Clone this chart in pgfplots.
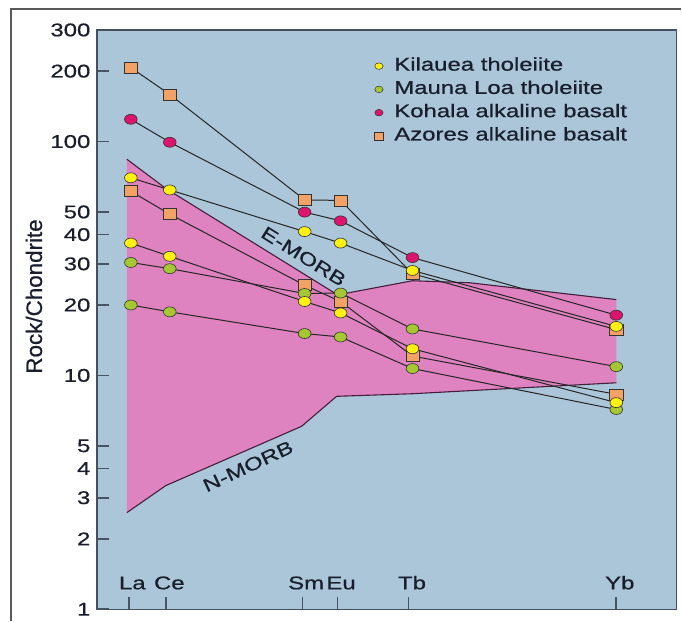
\documentclass[border=0pt]{standalone}
\usepackage{fontspec}
\setmainfont[FakeStretch=1.3, FakeBold=0.6]{Liberation Sans}
\newfontfamily\labelfont[FakeBold=0.6]{Liberation Sans}
\usepackage{pgfplots}
\usepackage{pgfplotstable}
\pgfplotsset{compat=1.18}
\pgfplotsset{legend image code/.code={\draw[#1] plot coordinates {(0bp,-2bp)};}}
\definecolor{bgblue}{RGB}{170,198,216}
\definecolor{morbpink}{RGB}{222,130,192}
\definecolor{kyellow}{RGB}{255,240,20}
\definecolor{mgreen}{RGB}{165,200,50}
\definecolor{kmag}{RGB}{220,20,110}
\definecolor{aorange}{RGB}{242,162,100}
\definecolor{txt}{RGB}{25,30,45}
\definecolor{axisc}{RGB}{70,80,92}
\definecolor{tickc}{RGB}{70,85,100}
\definecolor{bound}{RGB}{70,30,60}
% x = position along the REE axis (La Ce Sm Eu Tb Yb), y = rock/chondrite
\pgfplotstableread{
x y
131 207
170 159
305 56.3
341 56
413 27.2
617 15.7
}\azoresA
\pgfplotstableread{
x y
131 61.3
170 48.9
305 24.3
341 20.7
413 12.1
617 8.3
}\azoresB
\pgfplotstableread{
x y
131 30.4
170 28.6
305 22.4
341 22.5
413 15.8
617 10.9
}\maunaA
\pgfplotstableread{
x y
131 20.0
170 18.7
305 15.1
341 14.6
413 10.7
617 7.15
}\maunaB
\pgfplotstableread{
x y
131 70
170 62.1
305 41.2
341 36.8
413 28.1
617 16.2
}\kilaueaA
\pgfplotstableread{
x y
131 36.8
170 32.3
305 20.7
341 18.5
413 13.0
617 7.65
}\kilaueaB
\pgfplotstableread{
x y
131 124.5
170 99.3
305 49.9
341 45.8
413 31.9
617 18.1
}\kohala
\begin{document}
\begin{tikzpicture}
\path (0bp,0bp) rectangle (682bp,622bp);
\draw[black!65, line width=1.6bp] (11bp,0bp) -- (11bp,613bp) -- (682bp,613bp);
\begin{axis}[
  at={(97bp,12bp)}, anchor=south west,
  scale only axis, width=580bp, height=580bp,
  xmin=97, xmax=677, ymode=log, ymin=1, ymax=300,
  axis background/.style={fill=bgblue},
  axis line style={axisc, line width=1.4bp},
  xtick pos=bottom, ytick pos=left, tick align=inside,
  major tick length=12bp,
  xtick style={draw=tickc, line width=1.6bp},
  ytick style={draw=tickc, line width=1.6bp},
  yminorticks=false, xminorticks=false,
  xtick={129,166,303,338,409,617},
  xticklabels={La,Ce,Sm,Eu,Tb,Yb},
  xticklabel style={anchor=base, yshift=20bp, xshift=3.5bp},
  ytick={1,2,3,4,5,10,20,30,40,50,100,200,300},
  yticklabels={1,2,3,4,5,10,20,30,40,50,100,200,300},
  yticklabel style={xshift=-3bp},
  ticklabel style={font=\fontsize{18.5}{22}\selectfont, text=txt},
  ylabel={Rock/Chondrite},
  ylabel style={at={(rel axis cs:-0.1086,0.54)}, anchor=center, font=\labelfont\fontsize{22.5}{26}\selectfont, text=txt},
  legend style={at={(rel axis cs:0.479,0.956)}, anchor=north west, draw=none, fill=none,
    font=\fontsize{18.5}{22}\selectfont, text=txt, inner sep=0pt, row sep=6.3bp, column sep=9bp,
    nodes={text height=13bp, text depth=0bp, inner sep=2bp}},
  legend cell align=left,
  linesty/.style={forget plot, no markers, line width=1bp, draw=black!85},
  circ/.style={forget plot, only marks, mark=*, mark size=5bp, mark options={fill=#1, draw=black!80, line width=0.6bp, xscale=1.27}},
  sqr/.style={forget plot, only marks, mark=square*, mark size=5.5bp, mark options={fill=#1, draw=black!80, line width=0.6bp, xscale=1.2}},
]
% MORB field
\addplot[fill=morbpink, draw=none, forget plot] coordinates {
 (127,84) (166,63) (338,22.1) (413,25.4) (470,24.9) (617,21.1)
 (617,9.3) (413,8.35) (337,8.14) (302,6.06) (166,3.38) (127,2.59)} -- cycle;
\addplot[bound, line width=1.1bp, forget plot] coordinates {
 (127,84) (166,63) (338,22.1) (413,25.4) (470,24.9) (617,21.1)};
\addplot[bound, line width=1.1bp, forget plot] coordinates {
 (127,2.59) (166,3.38) (302,6.06) (337,8.14) (413,8.35) (617,9.3)};
% legend images
\addlegendimage{only marks, mark=*, mark size=3.3bp, mark options={fill=kyellow, draw=black!80, line width=0.5bp, xscale=1.25}}
\addlegendentry{Kilauea tholeiite}
\addlegendimage{only marks, mark=*, mark size=3.3bp, mark options={fill=mgreen, draw=black!80, line width=0.5bp, xscale=1.25}}
\addlegendentry{Mauna Loa tholeiite}
\addlegendimage{only marks, mark=*, mark size=3.3bp, mark options={fill=kmag, draw=black!80, line width=0.5bp, xscale=1.25}}
\addlegendentry{Kohala alkaline basalt}
\addlegendimage{only marks, mark=square*, mark size=3.8bp, mark options={fill=aorange, draw=black!80, line width=0.5bp, xscale=1.15}}
\addlegendentry{Azores alkaline basalt}
% lines
\addplot[linesty] table {\azoresA};
\addplot[linesty] table {\azoresB};
\addplot[linesty] table {\maunaA};
\addplot[linesty] table {\maunaB};
\addplot[linesty] table {\kilaueaA};
\addplot[linesty] table {\kilaueaB};
\addplot[linesty] table {\kohala};
% markers
\addplot[sqr=aorange] table {\azoresA};
\addplot[sqr=aorange] table {\azoresB};
\addplot[circ=mgreen] table {\maunaA};
\addplot[circ=mgreen] table {\maunaB};
\addplot[circ=kyellow] table {\kilaueaA};
\addplot[circ=kyellow] table {\kilaueaB};
\addplot[circ=kmag] table {\kohala};
\node[rotate=-32, text=txt, font=\fontsize{18.5}{22}\selectfont] at (axis cs:304,32.3) {E-MORB};
\node[rotate=25, text=txt, font=\fontsize{18.5}{22}\selectfont] at (axis cs:248.3,4.09) {N-MORB};
\end{axis}
\end{tikzpicture}
\end{document}
